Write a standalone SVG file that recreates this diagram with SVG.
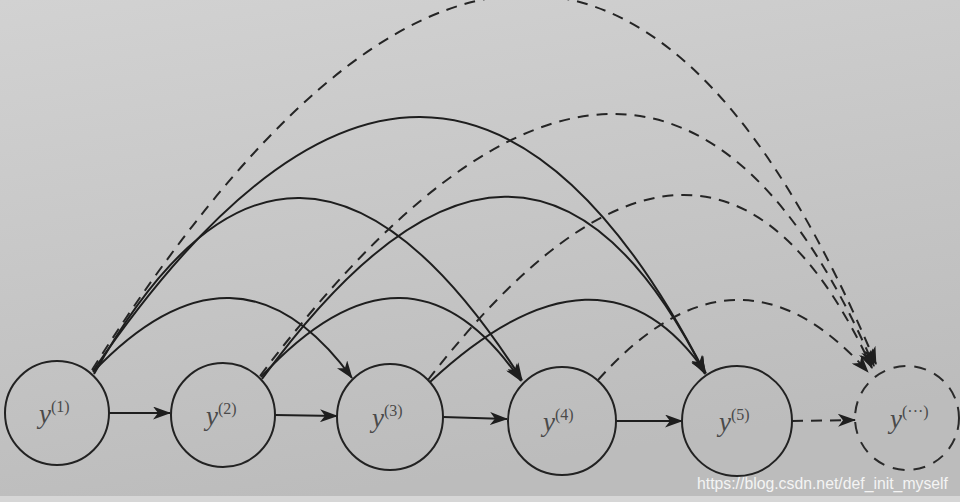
<svg xmlns="http://www.w3.org/2000/svg" width="960" height="502" viewBox="0 0 960 502">
<defs>
<linearGradient id="bg" x1="0" y1="0" x2="0.3" y2="1">
<stop offset="0" stop-color="#d2d2d2"/>
<stop offset="1" stop-color="#bcbcbc"/>
</linearGradient>
<marker id="ah" viewBox="0 0 18 13" refX="17" refY="6.5" markerWidth="18" markerHeight="13" markerUnits="userSpaceOnUse" orient="auto">
<path d="M0,0 L18,6.5 L0,13 L5,6.5 z" fill="#1e1e1e"/>
</marker>
<style>
.node{fill:none;stroke:#222;stroke-width:2}
.dnode{fill:none;stroke:#2a2a2a;stroke-width:2;stroke-dasharray:12 9}
.e{fill:none;stroke:#1e1e1e;stroke-width:2;marker-end:url(#ah)}
.d{fill:none;stroke:#252525;stroke-width:2;stroke-dasharray:11 8;marker-end:url(#ah)}
.lbl{font-family:"Liberation Serif",serif;font-style:italic;font-size:27px;fill:#4a4a4a}
.sup{font-style:normal;font-size:16px}
.wm{font-family:"Liberation Sans",Arial,sans-serif;font-size:16px;fill:#f4f4f4}
</style>
</defs>
<rect width="960" height="502" fill="url(#bg)"/>
<rect y="496" width="960" height="6" fill="#d6d6d6"/>
<g id="connectors">
<path class="e" d="M109,413 L170,413"/>
<path class="e" d="M275,415 L337,416"/>
<path class="e" d="M443,417 L507,419"/>
<path class="e" d="M616,421 L682,421"/>
<path class="d" d="M792,421 L855,420"/>
<path class="e" d="M93,372 Q237,221 352,378"/>
<path class="e" d="M94,374 Q292,19 522,380"/>
<path class="e" d="M93,371 Q441,-138 705,373"/>
<path class="d" d="M92,370 Q566,-377 876,364"/>
<path class="e" d="M261,377 Q409,217 521,381"/>
<path class="e" d="M262,379 Q526,17 705,374"/>
<path class="d" d="M260,376 Q653,-143 874,366"/>
<path class="e" d="M430,382 Q602,222 706,373"/>
<path class="d" d="M428,380 Q710,16 872,368"/>
<path class="d" d="M598,380 Q737,224 868,372"/>
</g>
<g id="n1"><circle class="node" cx="57" cy="413" r="52"/><text class="lbl" x="39" y="423">y<tspan class="sup" dy="-11">(1)</tspan></text></g>
<g id="n2"><circle class="node" cx="223" cy="415" r="52"/><text class="lbl" x="206" y="425">y<tspan class="sup" dy="-11">(2)</tspan></text></g>
<g id="n3"><circle class="node" cx="390" cy="417" r="53"/><text class="lbl" x="372" y="427">y<tspan class="sup" dy="-11">(3)</tspan></text></g>
<g id="n4"><circle class="node" cx="562" cy="421" r="54"/><text class="lbl" x="543" y="431">y<tspan class="sup" dy="-11">(4)</tspan></text></g>
<g id="n5"><circle class="node" cx="737" cy="421" r="55"/><text class="lbl" x="719" y="431">y<tspan class="sup" dy="-11">(5)</tspan></text></g>
<g id="n6"><circle class="dnode" cx="907" cy="418" r="52"/><text class="lbl" x="890" y="428">y<tspan class="sup" dy="-11">(···)</tspan></text></g>
<text class="wm" x="697" y="489" textLength="251" lengthAdjust="spacingAndGlyphs">https://blog.csdn.net/def_init_myself</text>
</svg>
